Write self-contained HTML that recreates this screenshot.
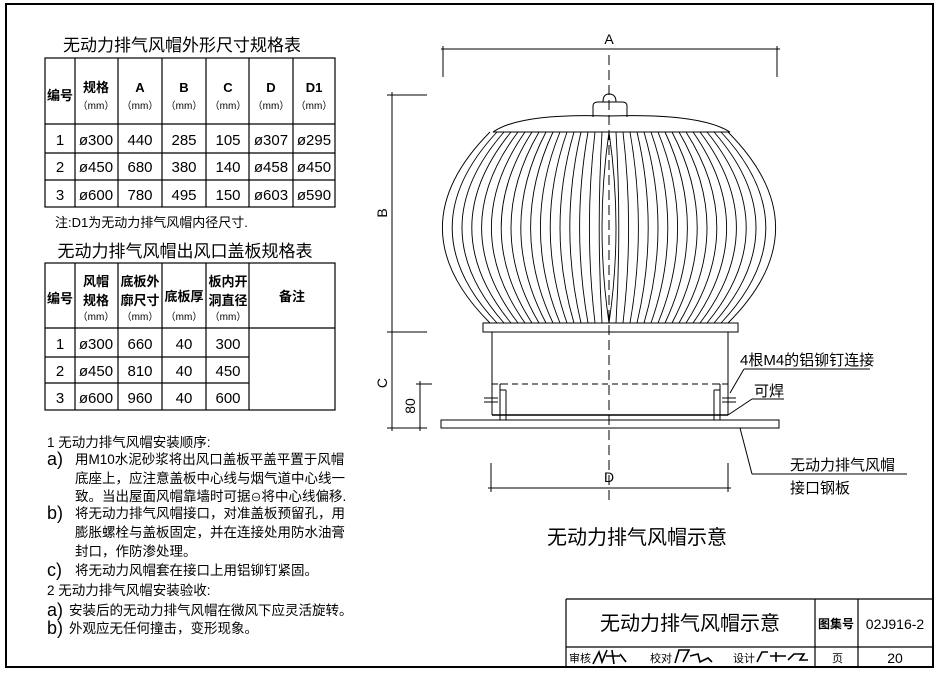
<!DOCTYPE html>
<html><head><meta charset="utf-8"><style>
html,body{margin:0;padding:0;background:#fff;}
svg{display:block;}
text{font-family:"Liberation Sans","Noto Sans CJK SC",sans-serif;fill:#000;}
</style></head><body>
<svg width="941" height="674" viewBox="0 0 941 674" xmlns="http://www.w3.org/2000/svg">
<rect x="6" y="4" width="927" height="663" fill="none" stroke="#000" stroke-width="2"/>

<text x="182" y="51" font-size="17" text-anchor="middle">无动力排气风帽外形尺寸规格表</text>
<g stroke="#000" stroke-width="1.2" fill="none">
<rect x="45" y="58" width="290" height="149"/>
<line x1="45" y1="124" x2="335" y2="124"/><line x1="45" y1="153" x2="335" y2="153"/><line x1="45" y1="180" x2="335" y2="180"/>
<line x1="75" y1="58" x2="75" y2="207"/><line x1="118" y1="58" x2="118" y2="207"/><line x1="162" y1="58" x2="162" y2="207"/>
<line x1="206" y1="58" x2="206" y2="207"/><line x1="249" y1="58" x2="249" y2="207"/><line x1="293" y1="58" x2="293" y2="207"/>
</g>
<g font-size="13" font-weight="bold" text-anchor="middle">
<text x="60" y="100">编号</text>
<text x="96" y="92">规格</text><text x="140" y="92">A</text><text x="184" y="92">B</text><text x="228" y="92">C</text><text x="271" y="92">D</text><text x="314" y="92">D1</text>
</g>
<g font-size="10" text-anchor="middle">
<text x="96" y="109">（mm）</text><text x="140" y="109">（mm）</text><text x="184" y="109">（mm）</text><text x="228" y="109">（mm）</text><text x="271" y="109">（mm）</text><text x="314" y="109">（mm）</text>
</g>
<g font-size="15" text-anchor="middle">
<text x="60" y="145">1</text><text x="96" y="145">ø300</text><text x="140" y="145">440</text><text x="184" y="145">285</text><text x="228" y="145">105</text><text x="271" y="145">ø307</text><text x="314" y="145">ø295</text>
<text x="60" y="172">2</text><text x="96" y="172">ø450</text><text x="140" y="172">680</text><text x="184" y="172">380</text><text x="228" y="172">140</text><text x="271" y="172">ø458</text><text x="314" y="172">ø450</text>
<text x="60" y="200">3</text><text x="96" y="200">ø600</text><text x="140" y="200">780</text><text x="184" y="200">495</text><text x="228" y="200">150</text><text x="271" y="200">ø603</text><text x="314" y="200">ø590</text>
</g>
<text x="55" y="227" font-size="13">注:D1为无动力排气风帽内径尺寸.</text>

<text x="185" y="257" font-size="17" text-anchor="middle">无动力排气风帽出风口盖板规格表</text>
<g stroke="#000" stroke-width="1.2" fill="none">
<rect x="45" y="263" width="290" height="147"/>
<line x1="45" y1="328" x2="335" y2="328"/><line x1="45" y1="357" x2="249" y2="357"/><line x1="45" y1="383" x2="249" y2="383"/>
<line x1="75" y1="263" x2="75" y2="410"/><line x1="118" y1="263" x2="118" y2="410"/><line x1="162" y1="263" x2="162" y2="410"/>
<line x1="206" y1="263" x2="206" y2="410"/><line x1="249" y1="263" x2="249" y2="410"/>
</g>
<g font-size="13" font-weight="bold" text-anchor="middle">
<text x="60" y="303">编号</text>
<text x="96" y="286">风帽</text><text x="96" y="305">规格</text>
<text x="140" y="286">底板外</text><text x="140" y="305">廓尺寸</text>
<text x="184" y="301">底板厚</text>
<text x="228" y="286">板内开</text><text x="228" y="305">洞直径</text>
<text x="292" y="301">备注</text>
</g>
<g font-size="10" text-anchor="middle">
<text x="96" y="320">（mm）</text><text x="140" y="320">（mm）</text><text x="184" y="320">（mm）</text><text x="228" y="320">（mm）</text>
</g>
<g font-size="15" text-anchor="middle">
<text x="60" y="349">1</text><text x="96" y="349">ø300</text><text x="140" y="349">660</text><text x="184" y="349">40</text><text x="228" y="349">300</text>
<text x="60" y="376">2</text><text x="96" y="376">ø450</text><text x="140" y="376">810</text><text x="184" y="376">40</text><text x="228" y="376">450</text>
<text x="60" y="403">3</text><text x="96" y="403">ø600</text><text x="140" y="403">960</text><text x="184" y="403">40</text><text x="228" y="403">600</text>
</g>

<!-- notes -->
<g font-size="13.5">
<text x="47" y="447">1 无动力排气风帽安装顺序:</text>
<text x="47" y="465"><tspan font-size="18">a)</tspan></text><text x="75" y="464">用M10水泥砂浆将出风口盖板平盖平置于风帽</text>
<text x="75" y="483">底座上，应注意盖板中心线与烟气道中心线一</text>
<text x="75" y="501">致。当出屋面风帽靠墙时可据<tspan font-size="11">⊖</tspan>将中心线偏移.</text>
<text x="47" y="519"><tspan font-size="18">b)</tspan></text><text x="75" y="518">将无动力排气风帽接口，对准盖板预留孔，用</text>
<text x="75" y="537">膨胀螺栓与盖板固定，并在连接处用防水油膏</text>
<text x="75" y="556">封口，作防渗处理。</text>
<text x="47" y="576"><tspan font-size="18">c)</tspan></text><text x="75" y="575">将无动力风帽套在接口上用铝铆钉紧固。</text>
<text x="47" y="595">2 无动力排气风帽安装验收:</text>
<text x="47" y="616"><tspan font-size="18">a)</tspan></text><text x="69" y="615">安装后的无动力排气风帽在微风下应灵活旋转。</text>
<text x="47" y="634"><tspan font-size="18">b)</tspan></text><text x="69" y="633">外观应无任何撞击，变形现象。</text>
</g>

<g stroke="#000" stroke-width="1" fill="none">
<line x1="441" y1="49" x2="780" y2="49"/>
<line x1="443" y1="46" x2="443" y2="77"/><line x1="777" y1="46" x2="777" y2="77"/>
<line x1="609" y1="55" x2="609" y2="500" stroke-dasharray="10,5"/>
<line x1="392" y1="92" x2="392" y2="431"/>
<line x1="387" y1="95" x2="427" y2="95"/>
<line x1="387" y1="332" x2="427" y2="332"/>
<line x1="387" y1="428" x2="427" y2="428"/>
<line x1="420" y1="381" x2="420" y2="431"/>
<line x1="416" y1="384" x2="432" y2="384"/>
<path d="M493,132 Q520,113 609,116 Q700,113 730,132"/>
<line x1="493" y1="132" x2="730" y2="132"/>
<path d="M593,117 L593,106 Q593,102 598,102 L622,102 Q627,102 627,106 L627,117"/>
<path d="M603,102 Q603,94 609,94 Q616,94 616,102"/>
<g stroke-width="0.9">
<path d="M616,132 Q621.6,228 616,323"/><path d="M623,132 Q634.2,228 623,323"/><path d="M630,132 Q646.8,228 630,323"/><path d="M637,132 Q659.4,228 637,323"/>
<path d="M644,132 Q672,228 644,323"/><path d="M651,132 Q684.6,228 651,323"/><path d="M658,132 Q697.2,228 658,323"/><path d="M665,132 Q709.8,228 665,323"/>
<path d="M672,132 Q722.4,228 672,323"/><path d="M679,132 Q735,228 679,323"/><path d="M686,132 Q747.6,228 686,323"/><path d="M693,132 Q760.2,228 693,323"/>
<path d="M700,132 Q772.8,228 700,323"/><path d="M707,132 Q785.4,228 707,323"/><path d="M714,132 Q798,228 714,323"/><path d="M721,132 Q810.6,228 721,323"/>
<path d="M728,132 Q823.2,228 728,323"/>
<path d="M602,132 Q596.4,228 602,323"/><path d="M595,132 Q583.8,228 595,323"/><path d="M588,132 Q571.2,228 588,323"/><path d="M581,132 Q558.6,228 581,323"/>
<path d="M574,132 Q546,228 574,323"/><path d="M567,132 Q533.4,228 567,323"/><path d="M560,132 Q520.8,228 560,323"/><path d="M553,132 Q508.2,228 553,323"/>
<path d="M546,132 Q495.6,228 546,323"/><path d="M539,132 Q483,228 539,323"/><path d="M532,132 Q470.4,228 532,323"/><path d="M525,132 Q457.8,228 525,323"/>
<path d="M518,132 Q445.2,228 518,323"/><path d="M511,132 Q432.6,228 511,323"/><path d="M504,132 Q420,228 504,323"/><path d="M497,132 Q407.4,228 497,323"/>
<path d="M490,132 Q394.8,228 490,323"/>
<path d="M609,132 Q595,228 609,323"/><path d="M609,132 Q623,228 609,323"/>
</g>
<rect x="483" y="323" width="255" height="9"/>
<line x1="492" y1="332" x2="492" y2="415"/><line x1="728" y1="332" x2="728" y2="415"/>
<line x1="492" y1="415" x2="728" y2="415" stroke-width="1.5"/>
<line x1="492" y1="384" x2="728" y2="384" stroke-dasharray="6,4"/>
<path d="M500,384 h6 M500,390 h6 M500,384 v36 M506,390 v30 M484,398 h14 M484,402 h14"/>
<path d="M714,384 h6 M714,390 h6 M720,384 v36 M714,390 v30 M722,398 h14 M722,402 h14"/>
<rect x="441" y="420" width="338" height="8"/>
<line x1="491" y1="463" x2="491" y2="492"/><line x1="728" y1="463" x2="728" y2="492"/>
<line x1="488" y1="488" x2="731" y2="488"/>
<line x1="744" y1="369" x2="870" y2="369"/>
<line x1="744" y1="369" x2="730" y2="393"/>
<line x1="752" y1="399" x2="784" y2="399"/>
<line x1="752" y1="399" x2="728" y2="415"/>
<line x1="740" y1="428" x2="752" y2="474"/>
<line x1="752" y1="474" x2="907" y2="474"/>
</g>
<g font-size="14" text-anchor="middle">
<text x="609" y="44">A</text>
<text x="609" y="482">D</text>
<text x="387" y="213" transform="rotate(-90 387 213)">B</text>
<text x="387" y="383" transform="rotate(-90 387 383)">C</text>
<text x="415" y="406" transform="rotate(-90 415 406)">80</text>
</g>
<g font-size="15">
<text x="740" y="365">4根M4的铝铆钉连接</text>
<text x="754" y="396">可焊</text>
<text x="790" y="470">无动力排气风帽</text>
<text x="790" y="493">接口钢板</text>
</g>
<text x="637" y="544" font-size="20" text-anchor="middle">无动力排气风帽示意</text>

<g stroke="#000" stroke-width="1.2" fill="none">
<line x1="566" y1="599" x2="933" y2="599"/>
<line x1="566" y1="599" x2="566" y2="667"/>
<line x1="566" y1="647" x2="933" y2="647"/>
<line x1="815" y1="599" x2="815" y2="667"/>
<line x1="858" y1="599" x2="858" y2="667"/>
</g>
<text x="690" y="630" font-size="20" text-anchor="middle">无动力排气风帽示意</text>
<text x="818" y="628" font-size="12" font-weight="bold">图集号</text>
<text x="895" y="629" font-size="14" text-anchor="middle">02J916-2</text>
<g font-size="11">
<text x="569" y="662">审核</text><text x="650" y="662">校对</text><text x="733" y="662">设计</text>
<text x="832" y="662">页</text>
</g>
<text x="895" y="663" font-size="14" text-anchor="middle">20</text>
<g stroke="#000" stroke-width="1.6" fill="none">
<path d="M593,664 l6,-12 l3,10 l5,-12 M606,656 h14 M612,650 l2,14 M620,654 l6,8"/>
<path d="M675,663 l4,-13 h10 l-6,12 M690,656 l8,-2 l2,8 l8,-4 l4,4"/>
<path d="M757,662 l5,-10 h6 M770,656 h16 M776,652 v10 M788,660 l6,-6 h10 l-4,6 h8"/>
</g>
</svg>
</body></html>
